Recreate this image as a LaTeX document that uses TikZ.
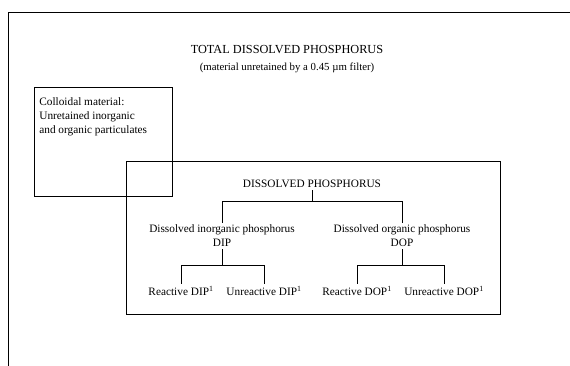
\documentclass[tikz,border=0pt]{standalone}
\usepackage{fontspec}
\setmainfont{Liberation Serif}
\usepackage{tikz}

\begin{document}
\begin{tikzpicture}[x=1pt, y=-1pt, line width=0.7pt,
        lbl/.style={inner sep=2pt, font=\fontsize{11.3}{14}\selectfont, align=center}]
        \useasboundingbox (0,0) rectangle (570,366);

        % Les cadres
        \draw (570,12) -- (8,12) -- (8,366);
        \draw (34,87) rectangle (172,196);
        \draw (126,161) rectangle (500,314);

        % Les textes
        \node (tdp) [lbl] at (287,50) {\fontsize{12.3}{14}\selectfont TOTAL DISSOLVED PHOSPHORUS};
        \node (filt) [lbl, font=\fontsize{10.8}{13}\selectfont] at (287,68) {(material unretained by a 0.45 \textmu m filter)};
        \node (colloid) [lbl, align=left, anchor=north west] at (37,95) {Colloidal material:\\Unretained inorganic\\and organic particulates};
        \node (dp) [lbl] at (312,184) {DISSOLVED PHOSPHORUS};
        \node (dip) [lbl] at (222,236) {Dissolved inorganic phosphorus\\DIP};
        \node (dop) [lbl] at (402,236) {Dissolved organic phosphorus\\DOP};
        \node (rdip) [lbl] at (181,291) {Reactive DIP\textsuperscript{1}};
        \node (udip) [lbl] at (264,291) {Unreactive DIP\textsuperscript{1}};
        \node (rdop) [lbl] at (357,291) {Reactive DOP\textsuperscript{1}};
        \node (udop) [lbl] at (444,291) {Unreactive DOP\textsuperscript{1}};

        % Les branches
        \draw (dp.south) -- ++(0,11) -| (dip.north);
        \draw (dp.south) ++(0,11) -| (dop.north);
        \draw (dip.south) -- ++(0,16) -| (rdip.north);
        \draw (dip.south) ++(0,16) -| (udip.north);
        \draw (dop.south) -- ++(0,16) -| (rdop.north);
        \draw (dop.south) ++(0,16) -| (udop.north);
    \end{tikzpicture}
\end{document}
